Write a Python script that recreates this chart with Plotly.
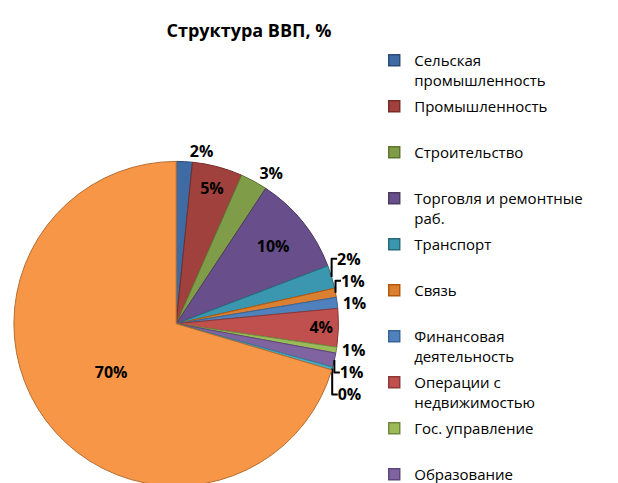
import plotly.graph_objects as go

labels = ["Сельская промышленность", "Промышленность", "Строительство",
          "Торговля и ремонтные раб.", "Транспорт", "Связь",
          "Финансовая деятельность", "Операции с недвижимостью",
          "Гос. управление", "Образование", "Здравоохранение", "Прочие услуги"]
legend_names = ["Сельская<br>промышленность", "Промышленность<br> ", "Строительство<br> ",
                "Торговля и ремонтные<br>раб.", "Транспорт<br> ", "Связь<br> ",
                "Финансовая<br>деятельность", "Операции с<br>недвижимостью",
                "Гос. управление<br> ", "Образование"]
values = [1.6, 5.0, 2.7, 9.9, 2.3, 0.9, 1.1, 3.8, 0.6, 1.4, 0.3, 70.4]
colors = ["#3E6BA3", "#A0413E", "#7F9D48", "#684E8A", "#3A97AF", "#DA8032",
          "#4F81BD", "#C0504D", "#9BBB59", "#8064A2", "#4BACC6", "#F79646"]
edges = ["#2C4D75", "#772C2A", "#5F7530", "#4D3B62", "#276A7C", "#B65708",
         "#3A6496", "#8C3836", "#71893F", "#5C4776", "#357D91", "#B66D31"]
positions = ["outside", "inside", "outside", "inside", "outside", "outside",
             "outside", "inside", "outside", "outside", "outside", "inside"]

W, H = 618, 483
fig = go.Figure()
fig.add_trace(go.Pie(
    labels=labels, values=values, sort=False, direction="clockwise", rotation=0,
    marker=dict(colors=colors, line=dict(color=edges, width=1)),
    texttemplate="%{percent:.0%}", textposition=positions,
    insidetextorientation="horizontal",
    textfont=dict(family="Open Sans", size=16, color="black", weight="bold"),
    domain=dict(x=[2 / W, 330 / W], y=[0, 328 / H]),
    showlegend=False, hoverinfo="label+percent",
))
for i, name in enumerate(legend_names):
    fig.add_trace(go.Scatter(
        x=[None], y=[None], mode="markers", name=name,
        legendgroup=f"g{i}",
        marker=dict(symbol="square", size=11, color=colors[i],
                    line=dict(color=edges[i], width=1.5)),
    ))

fig.update_layout(
    width=W, height=H,
    margin=dict(l=0, r=0, t=0, b=0),
    paper_bgcolor="white", plot_bgcolor="white",
    xaxis=dict(visible=False), yaxis=dict(visible=False),
    title=dict(text="<b>Структура ВВП, %</b>", x=241 / W, xanchor="center",
               y=1 - 23 / H, yanchor="middle", yref="container", xref="container",
               font=dict(family="Open Sans", size=18, color="black")),
    legend=dict(x=365 / W, y=1 - 42 / H, xanchor="left", yanchor="top",
                traceorder="grouped", tracegroupgap=4, valign="top",
                itemwidth=30, maxheight=1,
                font=dict(family="Open Sans", size=15, color="black"),
                bgcolor="rgba(0,0,0,0)"),
)
fig.write_html("out.html")
